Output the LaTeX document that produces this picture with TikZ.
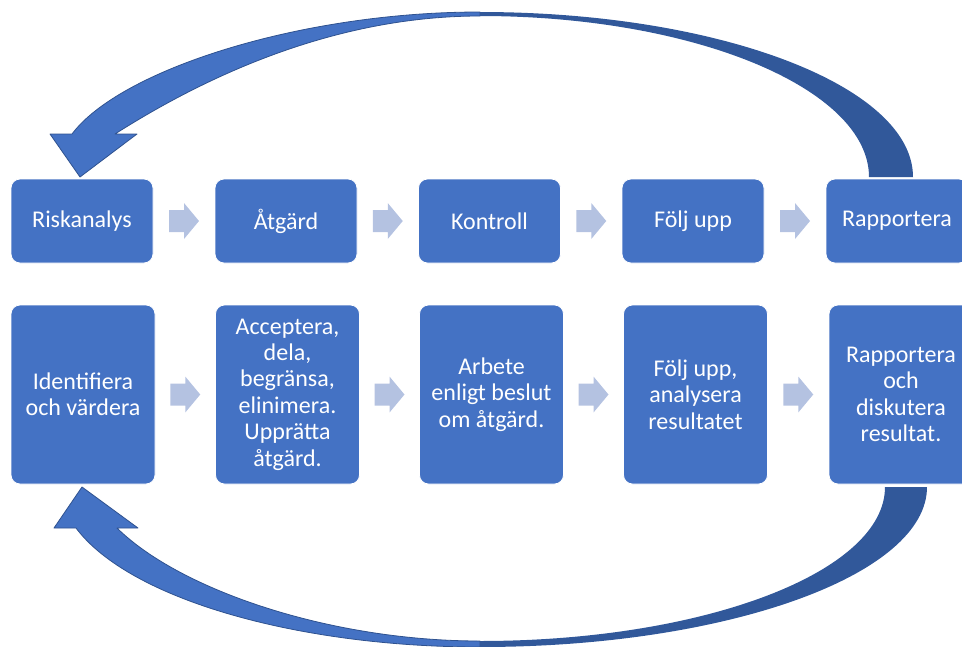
\documentclass[tikz,border=0pt]{standalone}
\usepackage{fontspec}
\setmainfont{Carlito}
\usetikzlibrary{calc}
\definecolor{boxc}{HTML}{4472C4}
\definecolor{chevc}{HTML}{B4C2E1}
\definecolor{darkc}{HTML}{31589A}
\definecolor{edgec}{HTML}{2F528F}
\begin{document}
\begin{tikzpicture}[x=1pt,y=-1pt,
  box/.style={fill=boxc, draw=white, line width=0.8pt, rounded corners=9pt, text=white, align=center,
    font=\fontsize{24}{26.4}\selectfont, inner sep=0pt},
  topbox/.style={box, minimum width=142pt, minimum height=84pt},
  botbox/.style={box, minimum width=144pt, minimum height=179pt},
  chevpic/.pic={\fill[chevc] (-15,-11) -- (0,-11) -- (0,-18) -- (15,0) -- (0,18) -- (0,11) -- (-15,11) -- cycle;},
  lightarrow/.style={fill=boxc, draw=edgec, line width=0.8pt, line join=round},
  darkarrow/.style={fill=darkc, draw=none}
]
\clip (0,0) rectangle (962,646);

% big curved arrow, top
\path[lightarrow] (480,16) .. controls (330,16) and (200,80) .. (115,134) -- (137,134) -- (80,177)
  -- (50,134) -- (72,134) .. controls (120,70) and (300,12) .. (480,12) -- cycle;
\path[darkarrow] (480,12) .. controls (719,12) and (913,86) .. (913,177) -- (869,177)
  .. controls (869,89) and (695,16) .. (480,16) -- cycle;

% big curved arrow, bottom
\path[lightarrow] (480,641) .. controls (330,641) and (180,590) .. (117,528) -- (138,528) -- (82,487)
  -- (54,528) -- (76,528) .. controls (130,600) and (300,647) .. (480,647) -- cycle;
\path[darkarrow] (480,647) .. controls (727,647) and (927,575) .. (927,487) -- (885,487)
  .. controls (885,572) and (704,641) .. (480,641) -- cycle;

% top row
\node[topbox] (t1) at (82,221) {Riskanalys};
\node[topbox] (t2) at (286,221) {Åtgärd};
\node[topbox] (t3) at (489.5,221) {Kontroll};
\node[topbox] (t4) at (693,221) {Följ upp};
\node[topbox] (t5) at (897,221) {Rapportera};

% bottom row
\node[botbox] (b1) at (83,394.5) {Identifiera\\och värdera};
\node[botbox] (b2) at (287.5,394.5) {Acceptera,\\dela,\\begränsa,\\elinimera.\\Upprätta\\åtgärd.};
\node[botbox] (b3) at (491.5,394.5) {Arbete\\enligt beslut\\om åtgärd.};
\node[botbox] (b4) at (695.5,394.5) {Följ upp,\\analysera\\resultatet};
\node[botbox] (b5) at (901,394.5) {Rapportera\\och\\diskutera\\resultat.};

% small arrows
\coordinate (ct1) at ($(t1.east)!0.5!(t2.west)$);
\coordinate (ct2) at ($(t2.east)!0.5!(t3.west)$);
\coordinate (ct3) at ($(t3.east)!0.5!(t4.west)$);
\coordinate (ct4) at ($(t4.east)!0.5!(t5.west)$);
\coordinate (cb1) at ($(b1.east)!0.5!(b2.west)$);
\coordinate (cb2) at ($(b2.east)!0.5!(b3.west)$);
\coordinate (cb3) at ($(b3.east)!0.5!(b4.west)$);
\coordinate (cb4) at ($(b4.east)!0.5!(b5.west)$);
\foreach \c in {ct1,ct2,ct3,ct4,cb1,cb2,cb3,cb4} { \pic at (\c) {chevpic}; }
\end{tikzpicture}
\end{document}
